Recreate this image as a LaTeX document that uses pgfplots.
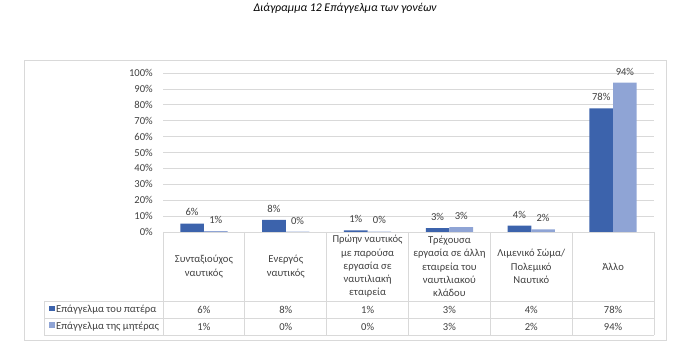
\documentclass[border=0pt]{standalone}
\usepackage{pgfplots}
\pgfplotsset{compat=1.18}
\usepackage{pgfplotstable}
\usepackage{fontspec}
\setmainfont{Carlito}
\definecolor{darkbar}{HTML}{3C63AC}
\definecolor{lightbar}{HTML}{8FA4D5}
\definecolor{gridgray}{HTML}{D9D9D9}
\definecolor{txt}{HTML}{404040}

\pgfplotstableread{
x f fl m ml
0 5.3 6 0.6 1
1 7.6 8 0.2 0
2 1.0 1 0.3 0
3 2.4 3 3.1 3
4 4.0 4 1.6 2
5 77.8 78 93.9 94
}\data

\begin{document}
\begin{tikzpicture}
\path[use as bounding box] (0,0) rectangle (696bp,354bp);
\begin{axis}[
  at={(163bp,122bp)}, anchor=south west,
  width=491bp, height=159bp, scale only axis,
  xmin=-0.5, xmax=5.5, ymin=0, ymax=100,
  axis line style={draw=none},
  xtick=\empty,
  ytick={0,10,...,100},
  yticklabel={\pgfmathprintnumber{\tick}\%},
  /pgf/number format/assume math mode=true,
  yticklabel style={font=\fontsize{10.6bp}{12bp}\selectfont, text=txt, inner sep=0pt, xshift=-10bp},
  ytick style={draw=none},
  ymajorgrids, grid style={color=gridgray, line width=0.75bp},
  ybar=0pt, bar width=0.289,
  clip=false,
  point meta=explicit symbolic,
  nodes near coords={\pgfplotspointmeta\%},
  every node near coord/.append style={font=\fontsize{10.6bp}{12bp}\selectfont, text=txt, inner sep=0pt, anchor=south, yshift=7.3bp},
]
\addplot[fill=darkbar, draw=none] table[x=x, y=f, meta=fl]{\data};
\addplot[fill=lightbar, draw=none] table[x=x, y=m, meta=ml]{\data};
\end{axis}

\begin{scope}[x=1bp, y=-1bp, shift={(0,354bp)}]
  % outer frame
  \draw[gridgray, line width=0.75bp] (24.5,60.3) rectangle (666.3,340);
  % title
  \node[font=\fontsize{11.8bp}{13bp}\selectfont\itshape, text=black] at (345,8) {Διάγραμμα 12 Επάγγελμα των γονέων};
  % table lines
  \draw[gridgray, line width=0.75bp] (163,232) -- (654,232);
  \draw[gridgray, line width=0.75bp] (44,301) -- (654,301);
  \draw[gridgray, line width=0.75bp] (44,318.5) -- (654,318.5);
  \draw[gridgray, line width=0.75bp] (44,335) -- (654,335);
  \draw[gridgray, line width=0.75bp] (44,301) -- (44,335);
  \foreach \xx in {163,244.83,326.67,408.5,490.33,572.17,654} {
    \draw[gridgray, line width=0.75bp] (\xx,232) -- (\xx,335);
  }
  \begin{scope}[every node/.style={font=\fontsize{10.6bp}{13.3bp}\selectfont, text=txt, align=center, inner sep=0pt}]
    \node at (203.9,266.5) {Συνταξιούχος\\ναυτικός};
    \node at (285.75,266.5) {Ενεργός\\ναυτικός};
    \node at (367.6,266.5) {Πρώην ναυτικός\\με παρούσα\\εργασία σε\\ναυτιλιακή\\εταιρεία};
    \node at (449.4,266.5) {Τρέχουσα\\εργασία σε άλλη\\εταιρεία του\\ναυτιλιακού\\κλάδου};
    \node at (531.25,266.5) {Λιμενικό Σώμα/\\Πολεμικό\\Ναυτικό};
    \node at (613.1,266.5) {Άλλο};
    % row values
    \node at (203.9,310) {6\%};
    \node at (285.75,310) {8\%};
    \node at (367.6,310) {1\%};
    \node at (449.4,310) {3\%};
    \node at (531.25,310) {4\%};
    \node at (613.1,310) {78\%};
    \node at (203.9,326.8) {1\%};
    \node at (285.75,326.8) {0\%};
    \node at (367.6,326.8) {0\%};
    \node at (449.4,326.8) {3\%};
    \node at (531.25,326.8) {2\%};
    \node at (613.1,326.8) {94\%};
    % legend column
    \node[anchor=west] at (56,310) {Επάγγελμα του πατέρα};
    \node[anchor=west] at (56,326.8) {Επάγγελμα της μητέρας};
  \end{scope}
  \fill[darkbar] (48.7,305.7) rectangle (54.5,311.5);
  \fill[lightbar] (48.7,322.5) rectangle (54.5,328.3);
\end{scope}
\end{tikzpicture}
\end{document}
